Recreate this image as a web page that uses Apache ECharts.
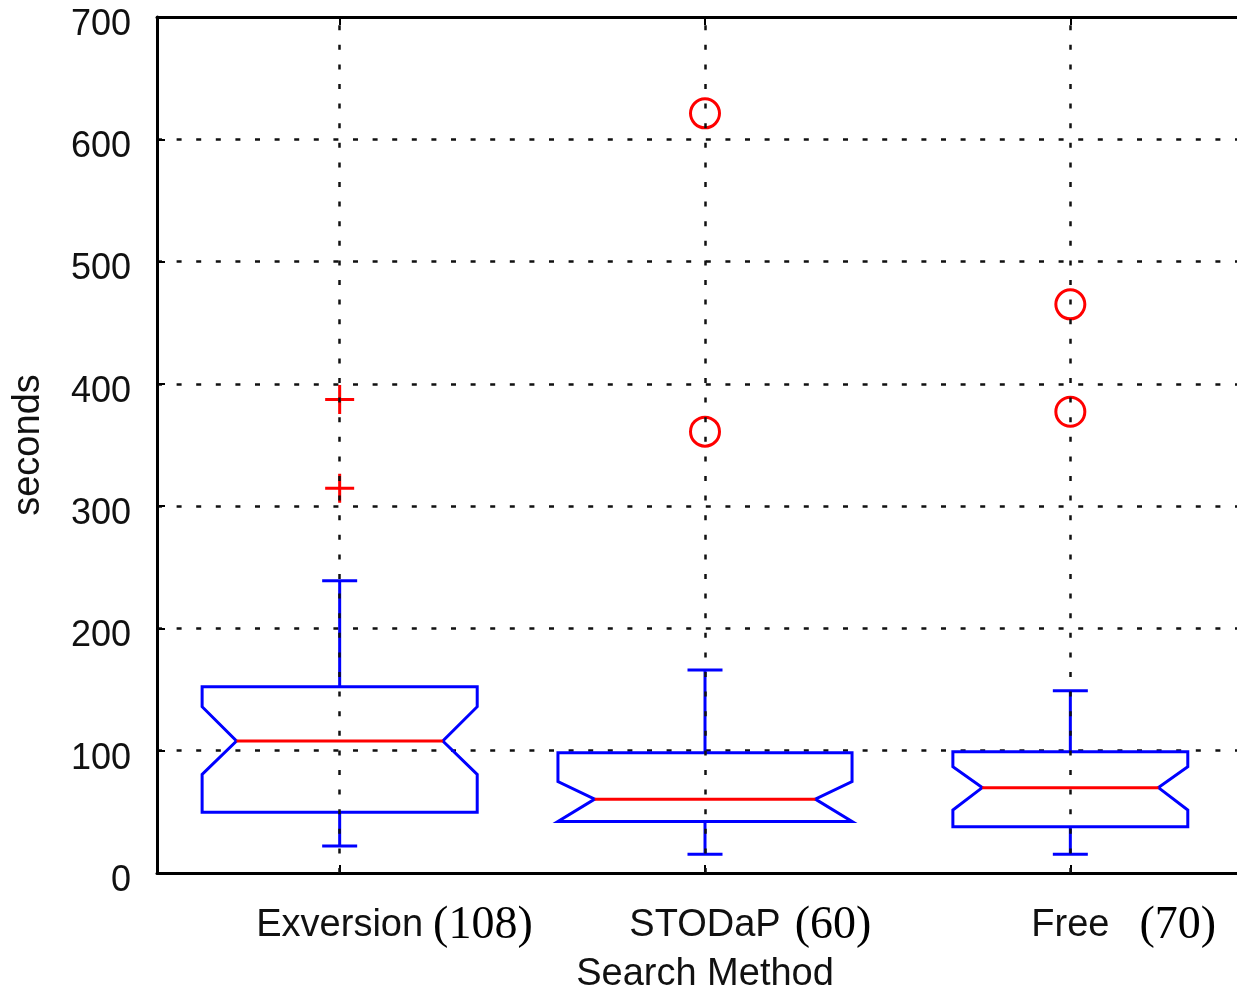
<!DOCTYPE html>
<html>
<head>
<meta charset="utf-8">
<script src="https://cdn.jsdelivr.net/npm/echarts@6/dist/echarts.min.js"></script>
<style>
  html, body { margin: 0; padding: 0; background: #fff; }
  #chart { width: 1237px; height: 993px; }
</style>
</head>
<body>
<div id="chart"></div>
<script>
// values
const categories = ['Exversion', 'STODaP', 'Free']
const counts = [108, 60, 70]
const q1 = [49.6, 42.2, 37.9]
const median = [107.9, 60.4, 69.8]
const q3 = [152.4, 98.4, 99.2]
const notchLo = [80.7, 42.2, 51.5]
const notchHi = [136, 74.7, 86.9]
const whiskerLo = [22, 15.3, 15.3]
const whiskerHi = [239, 166, 149]
const exversionOutliers = [387.2, 314.6]
const stodapOutliers = [621.2, 360.9]
const freeOutliers = [465, 377.2]
const yTicks = [0, 100, 200, 300, 400, 500, 600, 700]

// look
const boxWidth = [0.753, 0.805, 0.643]   // in category units
const labelGap = [10, 14, 30]            // px between name and count
const notchInset = 0.25
const capHalf = 17.5
const blue = '#0000ff'
const red = '#ff0000'
const dots = [5, 14.6]
const lw = 3
const sans = '"Liberation Sans", Arial, sans-serif'
const serif = '"Liberation Serif", "DejaVu Serif", serif'

const chart = echarts.init(document.getElementById('chart'))

const positions = categories.map((c, i) => i + 1)
const boxData = categories.map((c, i) => [i + 1, q1[i], notchLo[i], median[i], notchHi[i], q3[i], whiskerLo[i], whiskerHi[i]])

function renderBox(params, api) {
  const i = params.dataIndex
  const x = api.value(0)
  const cx = api.coord([x, 0])[0]
  const y = v => api.coord([x, v])[1]
  const half = api.size([boxWidth[i], 0])[0] / 2
  const inset = half * notchInset
  const yQ1 = y(api.value(1)), yNL = y(api.value(2)), yMed = y(api.value(3))
  const yNH = y(api.value(4)), yQ3 = y(api.value(5)), yWL = y(api.value(6)), yWH = y(api.value(7))
  const L = cx - half, R = cx + half
  const line = { stroke: blue, lineWidth: lw, fill: 'none' }
  return {
    type: 'group',
    children: [
      { type: 'polygon', shape: { points: [[L, yQ3], [L, yNH], [L + inset, yMed], [L, yNL], [L, yQ1], [R, yQ1], [R, yNL], [R - inset, yMed], [R, yNH], [R, yQ3]] }, style: line },
      { type: 'line', shape: { x1: cx, y1: yQ3, x2: cx, y2: yWH }, style: line },
      { type: 'line', shape: { x1: cx - capHalf, y1: yWH, x2: cx + capHalf, y2: yWH }, style: line },
      { type: 'line', shape: { x1: cx, y1: yQ1, x2: cx, y2: yWL }, style: line },
      { type: 'line', shape: { x1: cx - capHalf, y1: yWL, x2: cx + capHalf, y2: yWL }, style: line },
      { type: 'line', shape: { x1: L + inset, y1: yMed, x2: R - inset, y2: yMed }, style: { stroke: red, lineWidth: lw } }
    ]
  }
}

const rich = {
  a: { fontFamily: sans, fontSize: 38, color: '#111' },
  b: { fontFamily: serif, fontSize: 46, color: '#000' },
  h: { fontFamily: serif, fontSize: 46, color: 'rgba(0,0,0,0)' }
}
labelGap.forEach((g, i) => { rich['g' + i] = { width: g } })

function xLabel(value) {
  const i = Math.round(value) - 1
  if (i < 0 || i >= categories.length) return ''
  const n = '(' + counts[i] + ')'
  return '{h|' + n + '}{g' + i + '|}{a|' + categories[i] + '}{g' + i + '|}{b|' + n + '}'
}

const option = {
  animation: false,
  backgroundColor: '#fff',
  grid: { left: 157, width: 1096, top: 17, height: 856, outerBoundsMode: 'none', containLabel: false },
  xAxis: [
    {
      type: 'value', min: 0.5, max: 3.5, position: 'bottom',
      axisLine: { show: true, onZero: false, lineStyle: { color: '#000', width: 3 } },
      axisTick: { show: true, inside: true, length: 8, customValues: positions, lineStyle: { color: '#000', width: 2 } },
      axisLabel: { customValues: positions, formatter: xLabel, rich: rich, margin: 28, lineHeight: 50 },
      splitLine: { show: false },
      name: 'Search Method', nameLocation: 'middle', nameGap: 82,
      nameTextStyle: { fontFamily: sans, fontSize: 38, color: '#111' }
    },
    {
      type: 'value', min: 0.5, max: 3.5, position: 'top',
      axisLine: { show: true, onZero: false, lineStyle: { color: '#000', width: 3 } },
      axisTick: { show: true, inside: true, length: 8, customValues: positions, lineStyle: { color: '#000', width: 2 } },
      axisLabel: { show: false },
      splitLine: { show: false }
    }
  ],
  yAxis: {
    type: 'value', min: yTicks[0], max: yTicks[yTicks.length - 1], interval: 100,
    axisLine: { show: true, lineStyle: { color: '#000', width: 3 } },
    axisTick: { show: true, inside: true, length: 8, lineStyle: { color: '#000', width: 2 } },
    axisLabel: {
      margin: 26,
      formatter: v => '{v|' + v + '}',
      rich: { v: { fontFamily: sans, fontSize: 36, color: '#111', padding: [16, 0, 0, 0] } }
    },
    splitLine: { show: true, lineStyle: { color: '#111', width: 2.5, type: dots } },
    name: 'seconds', nameLocation: 'middle', nameRotate: 90, nameGap: 109,
    nameTextStyle: { fontFamily: sans, fontSize: 38, color: '#111' }
  },
  series: [
    {
      type: 'custom',
      renderItem: renderBox,
      data: boxData,
      encode: { x: 0, y: [1, 2, 3, 4, 5, 6, 7] },
      markLine: {
        silent: true, symbol: ['none', 'none'], label: { show: false },
        lineStyle: { color: '#111', width: 2.5, type: dots },
        data: positions.map(p => ({ xAxis: p }))
      },
      z: 3
    },
    {
      type: 'scatter',
      data: exversionOutliers.map(v => [1, v]),
      symbol: 'path://M-1,0L1,0M0,-1L0,1',
      symbolSize: 29,
      itemStyle: { color: 'rgba(0,0,0,0)', borderColor: red, borderWidth: lw, opacity: 1 },
      z: 4
    },
    {
      type: 'scatter',
      data: stodapOutliers.map(v => [2, v]).concat(freeOutliers.map(v => [3, v])),
      symbol: 'circle',
      symbolSize: 29,
      itemStyle: { color: 'rgba(0,0,0,0)', borderColor: red, borderWidth: lw, opacity: 1 },
      z: 4
    }
  ]
}

chart.setOption(option)
</script>
</body>
</html>
